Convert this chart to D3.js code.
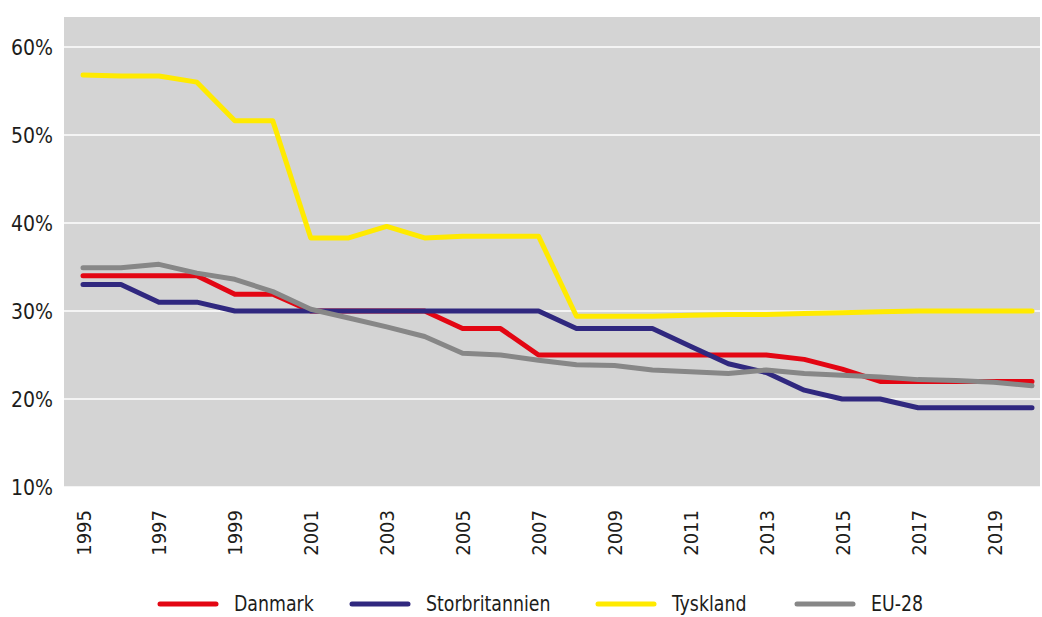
<!DOCTYPE html>
<html>
<head>
<meta charset="utf-8">
<script src="https://cdnjs.cloudflare.com/ajax/libs/d3/7.8.5/d3.min.js"></script>
<style>
  body { margin: 0; background: #ffffff; }
  svg text { font-family: "Liberation Sans Narrow", "Arial Narrow", "DejaVu Sans Condensed", sans-serif; fill: #1d1d1b; }
</style>
</head>
<body>
<svg id="chart"></svg>
<script>
// Data (percent)
var years = d3.range(1995, 2021);
var yTicks = [10, 20, 30, 40, 50, 60];
var danmark = [34, 34, 34, 34, 31.9, 31.9, 30, 30, 30, 30, 28, 28, 25, 25, 25, 25, 25, 25, 25, 24.5, 23.4, 22, 22, 22, 22, 22];
var storbritannien = [33, 33, 31, 31, 30, 30, 30, 30, 30, 30, 30, 30, 30, 28, 28, 28, 26, 24, 23, 21, 20, 20, 19, 19, 19, 19];
var tyskland = [56.8, 56.7, 56.7, 56, 51.6, 51.6, 38.3, 38.3, 39.6, 38.3, 38.5, 38.5, 38.5, 29.4, 29.4, 29.4, 29.5, 29.6, 29.6, 29.7, 29.8, 29.9, 30, 30, 30, 30];
var eu28 = [34.9, 34.9, 35.3, 34.3, 33.6, 32.2, 30.2, 29.2, 28.2, 27.1, 25.2, 25, 24.4, 23.9, 23.8, 23.3, 23.1, 22.9, 23.3, 22.9, 22.7, 22.5, 22.2, 22.1, 21.9, 21.5];

var series = [
    { name: 'Danmark', values: danmark, color: '#e30613' },
    { name: 'Storbritannien', values: storbritannien, color: '#30287f' },
    { name: 'Tyskland', values: tyskland, color: '#ffea00' },
    { name: 'EU-28', values: eu28, color: '#878787' }
];

var width = 1042;
var height = 617;

var svg = d3.select('#chart')
    .attr('width', width)
    .attr('height', height);

// Plot area
var plot = { left: 64, right: 1040, top: 17, bottom: 487 };

var x = d3.scalePoint()
    .domain(years)
    .range([83, 1032]);

var y = d3.scaleLinear()
    .domain([10, 63.4])
    .range([plot.bottom, plot.top]);

svg.append('rect')
    .attr('x', plot.left)
    .attr('y', plot.top)
    .attr('width', plot.right - plot.left)
    .attr('height', plot.bottom - plot.top)
    .attr('fill', '#d4d4d4');

// Gridlines
svg.append('g')
    .attr('class', 'grid')
    .selectAll('line')
    .data(yTicks)
    .enter().append('line')
    .attr('x1', plot.left)
    .attr('x2', plot.right)
    .attr('y1', function(d) { return y(d); })
    .attr('y2', function(d) { return y(d); })
    .attr('stroke', '#ffffff')
    .attr('stroke-width', 1.5);

// Y axis labels
var yAxis = d3.axisLeft(y)
    .tickValues(yTicks)
    .tickSize(0)
    .tickPadding(0)
    .tickFormat(function(d) { return d + '%'; });

svg.append('g')
    .attr('transform', 'translate(53,0)')
    .call(yAxis)
    .call(function(g) { g.select('.domain').remove(); })
    .selectAll('text')
    .style('font-size', '21px')
    .attr('dy', '0.35em');

// X axis labels (every other year)
var xAxis = d3.axisBottom(x)
    .tickValues(years.filter(function(d) { return (d - 1995) % 2 === 0; }))
    .tickSize(0)
    .tickPadding(0);

svg.append('g')
    .attr('transform', 'translate(0,' + plot.bottom + ')')
    .call(xAxis)
    .call(function(g) { g.select('.domain').remove(); })
    .selectAll('text')
    .style('font-size', '20px')
    .style('text-anchor', 'end')
    .attr('x', -23)
    .attr('y', 0)
    .attr('dy', '0.35em')
    .attr('transform', 'rotate(-90)');

// Lines
var line = d3.line()
    .x(function(d, i) { return x(years[i]); })
    .y(function(d) { return y(d); });

svg.append('g')
    .attr('class', 'lines')
    .selectAll('path')
    .data(series)
    .enter().append('path')
    .attr('d', function(d) { return line(d.values); })
    .attr('fill', 'none')
    .attr('stroke', function(d) { return d.color; })
    .attr('stroke-width', 5)
    .attr('stroke-linecap', 'round')
    .attr('stroke-linejoin', 'round');

// Legend
var legendX = [160, 352, 598, 797];
var legend = svg.append('g')
    .attr('class', 'legend')
    .selectAll('g')
    .data(series)
    .enter().append('g')
    .attr('transform', function(d, i) { return 'translate(' + legendX[i] + ',604)'; });

legend.append('line')
    .attr('x1', 0)
    .attr('x2', 56)
    .attr('stroke', function(d) { return d.color; })
    .attr('stroke-width', 5)
    .attr('stroke-linecap', 'round');

// narrower text to mimic the condensed face
legend.append('text')
    .attr('transform', 'translate(74,0) scale(0.92,1)')
    .attr('dy', '0.35em')
    .style('font-size', '21px')
    .text(function(d) { return d.name; });
</script>
</body>
</html>
